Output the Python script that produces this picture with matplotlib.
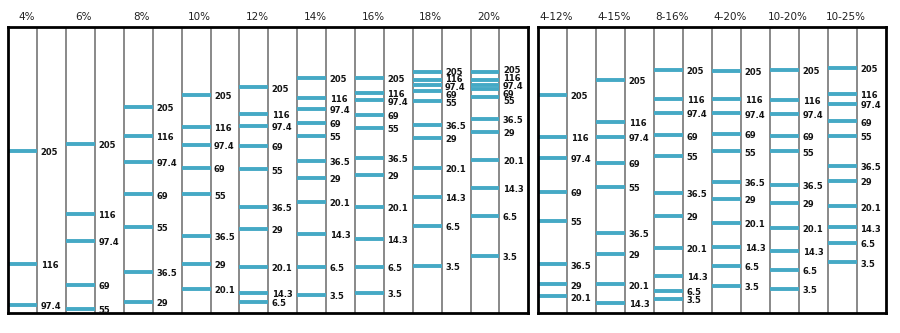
import matplotlib.pyplot as plt
import matplotlib.transforms as mtransforms

# marker proteins (kDa), top to bottom
markers = ["205", "116", "97.4", "69", "55", "36.5", "29", "20.1", "14.3", "6.5", "3.5"]

# band positions as % of gel length, one list per gel
single_gels = ["4%", "6%", "8%", "10%", "12%", "14%", "16%", "18%", "20%"]
single_pos = [
    [43.3, 82.9, 97.3],
    [40.9, 65.3, 74.9, 90.3, 98.6],
    [28.0, 38.0, 47.1, 58.5, 69.8, 85.6, 96.2],
    [23.8, 35.0, 41.3, 49.4, 58.5, 73.1, 82.9, 91.7],
    [21.1, 30.5, 34.7, 41.6, 49.8, 63.0, 70.7, 84.0, 92.9, 96.2],
    [17.7, 24.9, 28.7, 33.5, 38.0, 46.9, 52.7, 61.2, 72.3, 83.8, 93.8],
    [17.7, 23.2, 25.6, 30.8, 35.4, 45.9, 51.7, 63.0, 74.2, 83.8, 92.9],
    [15.8, 18.5, 20.4, 22.4, 25.9, 34.3, 38.9, 49.2, 59.4, 69.6, 83.5],
    [15.6, 18.5, 20.2, 21.8, 24.6, 32.2, 36.7, 46.5, 56.2, 66.0, 80.1],
]

gradient_gels = ["4-12%", "4-15%", "8-16%", "4-20%", "10-20%", "10-25%"]
gradient_pos = [
    [23.8, 38.4, 45.9, 57.7, 67.9, 83.0, 90.0, 94.2],
    [18.6, 33.2, 38.4, 47.4, 55.9, 71.9, 79.3, 90.0, 96.5],
    [14.9, 25.2, 30.0, 37.9, 45.1, 58.1, 66.0, 77.2, 87.0, 92.3, 95.1],
    [15.4, 25.2, 30.2, 37.5, 43.5, 54.2, 60.2, 68.6, 76.8, 83.5, 90.5],
    [14.9, 25.4, 30.5, 38.2, 43.5, 55.3, 61.6, 70.3, 78.4, 85.0, 91.7],
    [14.4, 23.5, 27.0, 33.0, 38.2, 48.5, 53.7, 62.7, 70.1, 75.5, 82.3],
]

BAND = "#45a9c5"


def spread(ys, gap=2.7, offset=0.6):
    # push crowded labels apart so they stack without overlapping
    out = [y + offset for y in ys]
    for _ in range(300):
        moved = False
        for k in range(len(out) - 1):
            d = out[k + 1] - out[k]
            if d < gap - 1e-6:
                shift = (gap - d) / 2
                out[k] -= shift
                out[k + 1] += shift
                moved = True
        if not moved:
            break
    return out


def draw_panel(ax, names, positions):
    ncols = 2 * len(names)
    ax.set_xlim(0, ncols)
    ax.set_ylim(100, 0)
    ax.set_xticks([])
    ax.set_yticks([])
    for s in ax.spines.values():
        s.set_linewidth(2)
        s.set_color("black")
    for c in range(1, ncols):
        ax.axvline(c, color="#808080", lw=1.3, zorder=1)

    trans = mtransforms.blended_transform_factory(ax.transData, ax.transAxes)
    for i, (name, pos) in enumerate(zip(names, positions)):
        x0 = 2 * i
        ax.text(x0 + 0.62, 1.035, name, transform=trans, ha="center", va="center",
                fontsize=7.5, color="#222222")
        for y, ly, lab in zip(pos, spread(pos), markers):
            ax.plot([x0, x0 + 1], [y, y], color=BAND, lw=2.8,
                    solid_capstyle="butt", zorder=2)
            ax.text(x0 + 1.12, ly, lab, ha="left", va="center",
                    fontsize=6, fontweight="bold", color="#111111")


fig = plt.figure(figsize=(9, 3.33), dpi=100)
ax1 = fig.add_axes([8.3 / 900, 20 / 333, 520 / 900, 286 / 333])
ax2 = fig.add_axes([538.3 / 900, 20 / 333, 347.7 / 900, 286 / 333])

draw_panel(ax1, single_gels, single_pos)
draw_panel(ax2, gradient_gels, gradient_pos)

fig.savefig("out.png", dpi=100)
